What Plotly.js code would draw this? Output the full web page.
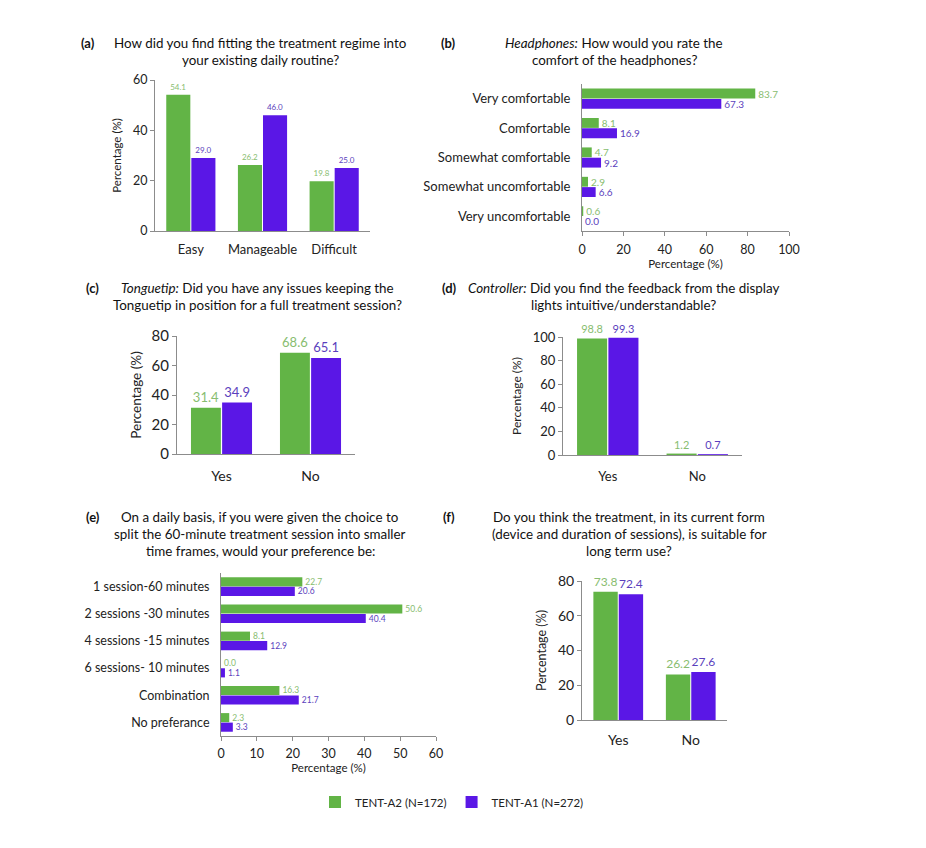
<!DOCTYPE html>
<html>
<head>
<meta charset="utf-8">
<script src="https://cdn.plot.ly/plotly-3.0.1.min.js"></script>
<style>html,body{margin:0;padding:0;background:#fff;}#chart{width:926px;height:848px;}</style>
</head>
<body>
<div id="chart"></div>
<script>
// ---- data ----
const seriesNames = ['TENT-A2 (N=172)', 'TENT-A1 (N=272)'];

const catsA = ['Easy', 'Manageable', 'Difficult'];
const a2A = [54.1, 26.2, 19.8];
const a1A = [29.0, 46.0, 25.0];

const catsB = ['Very comfortable', 'Comfortable', 'Somewhat comfortable', 'Somewhat uncomfortable', 'Very uncomfortable'];
const a2B = [83.7, 8.1, 4.7, 2.9, 0.6];
const a1B = [67.3, 16.9, 9.2, 6.6, 0.0];

const catsC = ['Yes', 'No'];
const a2C = [31.4, 68.6];
const a1C = [34.9, 65.1];

const catsD = ['Yes', 'No'];
const a2D = [98.8, 1.2];
const a1D = [99.3, 0.7];

const catsE = ['1 session-60 minutes', '2 sessions -30 minutes', '4 sessions -15 minutes', '6 sessions- 10 minutes', 'Combination', 'No preferance'];
const a2E = [22.7, 50.6, 8.1, 0.0, 16.3, 2.3];
const a1E = [20.6, 40.4, 12.9, 1.1, 21.7, 3.3];

const catsF = ['Yes', 'No'];
const a2F = [73.8, 26.2];
const a1F = [72.4, 27.6];

// ---- styles ----
const FONT = 'Lato, "Open Sans", sans-serif';
const GREEN = '#62b446';
const PURPLE = '#5a17e6';
const GREEN_TXT = '#88bd70';
const PURPLE_TXT = '#5b3fbd';
const W = 926, H = 848;
const px = v => v / W;
const py = v => 1 - v / H;

function vbar(cats, vals, color, tcolor, ax, tsize, name, showlegend) {
  return {
    type: 'bar', x: cats, y: vals, name: name, showlegend: showlegend,
    marker: {color: color, line: {width: 0}},
    texttemplate: '%{y:.1f}', textposition: 'outside', cliponaxis: false, constraintext: 'none',
    textfont: {family: FONT, size: tsize, color: tcolor},
    xaxis: 'x' + ax, yaxis: 'y' + ax, hoverinfo: 'skip'
  };
}
function hbar(cats, vals, color, tcolor, ax, tsize, name) {
  return {
    type: 'bar', orientation: 'h', y: cats, x: vals, name: name, showlegend: false,
    marker: {color: color, line: {width: 0}},
    texttemplate: '%{x:.1f}', textposition: 'outside', cliponaxis: false, constraintext: 'none',
    textfont: {family: FONT, size: tsize, color: tcolor},
    xaxis: 'x' + ax, yaxis: 'y' + ax, hoverinfo: 'skip'
  };
}

const data = [
  vbar(catsA, a2A, GREEN, GREEN_TXT, '', 8, seriesNames[0], true),
  vbar(catsA, a1A, PURPLE, PURPLE_TXT, '', 8, seriesNames[1], true),
  hbar(catsB, a2B, GREEN, GREEN_TXT, '2', 10, seriesNames[0]),
  hbar(catsB, a1B, PURPLE, PURPLE_TXT, '2', 10, seriesNames[1]),
  vbar(catsC, a2C, GREEN, GREEN_TXT, '3', 13, seriesNames[0], false),
  vbar(catsC, a1C, PURPLE, PURPLE_TXT, '3', 13, seriesNames[1], false),
  vbar(catsD, a2D, GREEN, GREEN_TXT, '4', 11, seriesNames[0], false),
  vbar(catsD, a1D, PURPLE, PURPLE_TXT, '4', 11, seriesNames[1], false),
  hbar(catsE, a2E, GREEN, GREEN_TXT, '5', 8.5, seriesNames[0]),
  hbar(catsE, a1E, PURPLE, PURPLE_TXT, '5', 8.5, seriesNames[1]),
  vbar(catsF, a2F, GREEN, GREEN_TXT, '6', 12, seriesNames[0], false),
  vbar(catsF, a1F, PURPLE, PURPLE_TXT, '6', 12, seriesNames[1], false)
];

const LINE = '#8c8c8c';
function valAxis(dom, anchor, range, dtick, fsize, title, tsize, standoff, lstand) {
  const o = {
    domain: dom, anchor: anchor, range: range, dtick: dtick, tick0: 0,
    showline: true, linecolor: LINE, linewidth: 1, showgrid: false, zeroline: false,
    ticks: 'outside', ticklen: 4, tickcolor: LINE,
    tickfont: {family: FONT, size: fsize, color: '#222'}, fixedrange: true,
    ticklabelstandoff: lstand || 0
  };
  if (title) o.title = {text: title, font: {family: FONT, size: tsize, color: '#222'}, standoff: standoff};
  return o;
}
function catAxis(dom, anchor, fsize, reversed, standoff) {
  const o = {
    domain: dom, anchor: anchor, type: 'category',
    showline: true, linecolor: LINE, linewidth: 1, showgrid: false, zeroline: false,
    ticks: '', tickfont: {family: FONT, size: fsize, color: '#222'}, fixedrange: true,
    ticklabelstandoff: standoff
  };
  if (reversed) o.autorange = 'reversed';
  return o;
}

const layout = {
  width: W, height: H,
  margin: {l: 0, r: 0, t: 0, b: 0},
  paper_bgcolor: '#fff', plot_bgcolor: 'rgba(0,0,0,0)',
  font: {family: FONT, color: '#222'},
  barmode: 'group', bargap: 0.3, bargroupgap: 0.04,
  showlegend: true,
  legend: {orientation: 'h', x: px(452), xanchor: 'center', y: py(802), yanchor: 'middle',
           font: {family: FONT, size: 11.5, color: '#222'}, itemwidth: 30, tracegroupgap: 0},
  // (a)
  xaxis: catAxis([px(155), px(370)], 'y', 13, false, 6),
  yaxis: valAxis([py(231), py(80)], 'x', [0, 60], 20, 12.5, 'Percentage (%)', 11.5, 8),
  // (b)
  xaxis2: valAxis([px(582), px(789)], 'y2', [0, 100], 20, 12.5, 'Percentage (%)', 11.5, 3, 3),
  yaxis2: catAxis([py(231), py(84)], 'x2', 13, true, 8),
  // (c)
  xaxis3: catAxis([px(177), px(355)], 'y3', 14, false, 9),
  yaxis3: valAxis([py(454), py(336)], 'x3', [0, 80], 20, 15, 'Percentage (%)', 13.5, 6),
  // (d)
  xaxis4: catAxis([px(563), px(742)], 'y4', 13, false, 9),
  yaxis4: valAxis([py(455), py(337)], 'x4', [0, 100], 20, 13, 'Percentage (%)', 12, 8),
  // (e)
  xaxis5: valAxis([px(221), px(436)], 'y5', [0, 60], 10, 12.5, 'Percentage (%)', 11.5, 3, 2),
  yaxis5: catAxis([py(736), py(573)], 'x5', 12.5, true, 8),
  // (f)
  xaxis6: catAxis([px(582), px(727)], 'y6', 14, false, 7),
  yaxis6: valAxis([py(720), py(581)], 'x6', [0, 80], 20, 14, 'Percentage (%)', 12.5, 8),
  annotations: []
};

function title(label, lx, cx, y, lines) {
  layout.annotations.push({
    xref: 'paper', yref: 'paper', x: px(lx), y: py(y), xanchor: 'center', yanchor: 'middle',
    text: '<b>' + label + '</b>', showarrow: false, font: {family: FONT, size: 13, color: '#111'}
  });
  lines.forEach((t, i) => layout.annotations.push({
    xref: 'paper', yref: 'paper', x: px(cx), y: py(y + i * 17), xanchor: 'center', yanchor: 'middle',
    text: t, showarrow: false, font: {family: FONT, size: 13.4, color: '#111'}
  }));
}
title('(a)', 88, 260, 43, ['How did you find fitting the treatment regime into', 'your existing daily routine?']);
title('(b)', 448, 614, 43, ['<i>Headphones:</i> How would you rate the', 'comfort of the headphones?']);
title('(c)', 92, 257, 288, ['<i>Tonguetip:</i> Did you have any issues keeping the', 'Tonguetip in position for a full treatment session?']);
title('(d)', 449, 623, 288, ['<i>Controller:</i> Did you find the feedback from the display', 'lights intuitive/understandable?']);
title('(e)', 93, 260, 517, ['On a daily basis, if you were given the choice to', 'split the 60-minute treatment session into smaller', 'time frames, would your preference be:']);
title('(f)', 449, 629, 517, ['Do you think the treatment, in its current form', '(device and duration of sessions), is suitable for', 'long term use?']);

Plotly.newPlot('chart', data, layout, {displayModeBar: false, staticPlot: true});
</script>
</body>
</html>
